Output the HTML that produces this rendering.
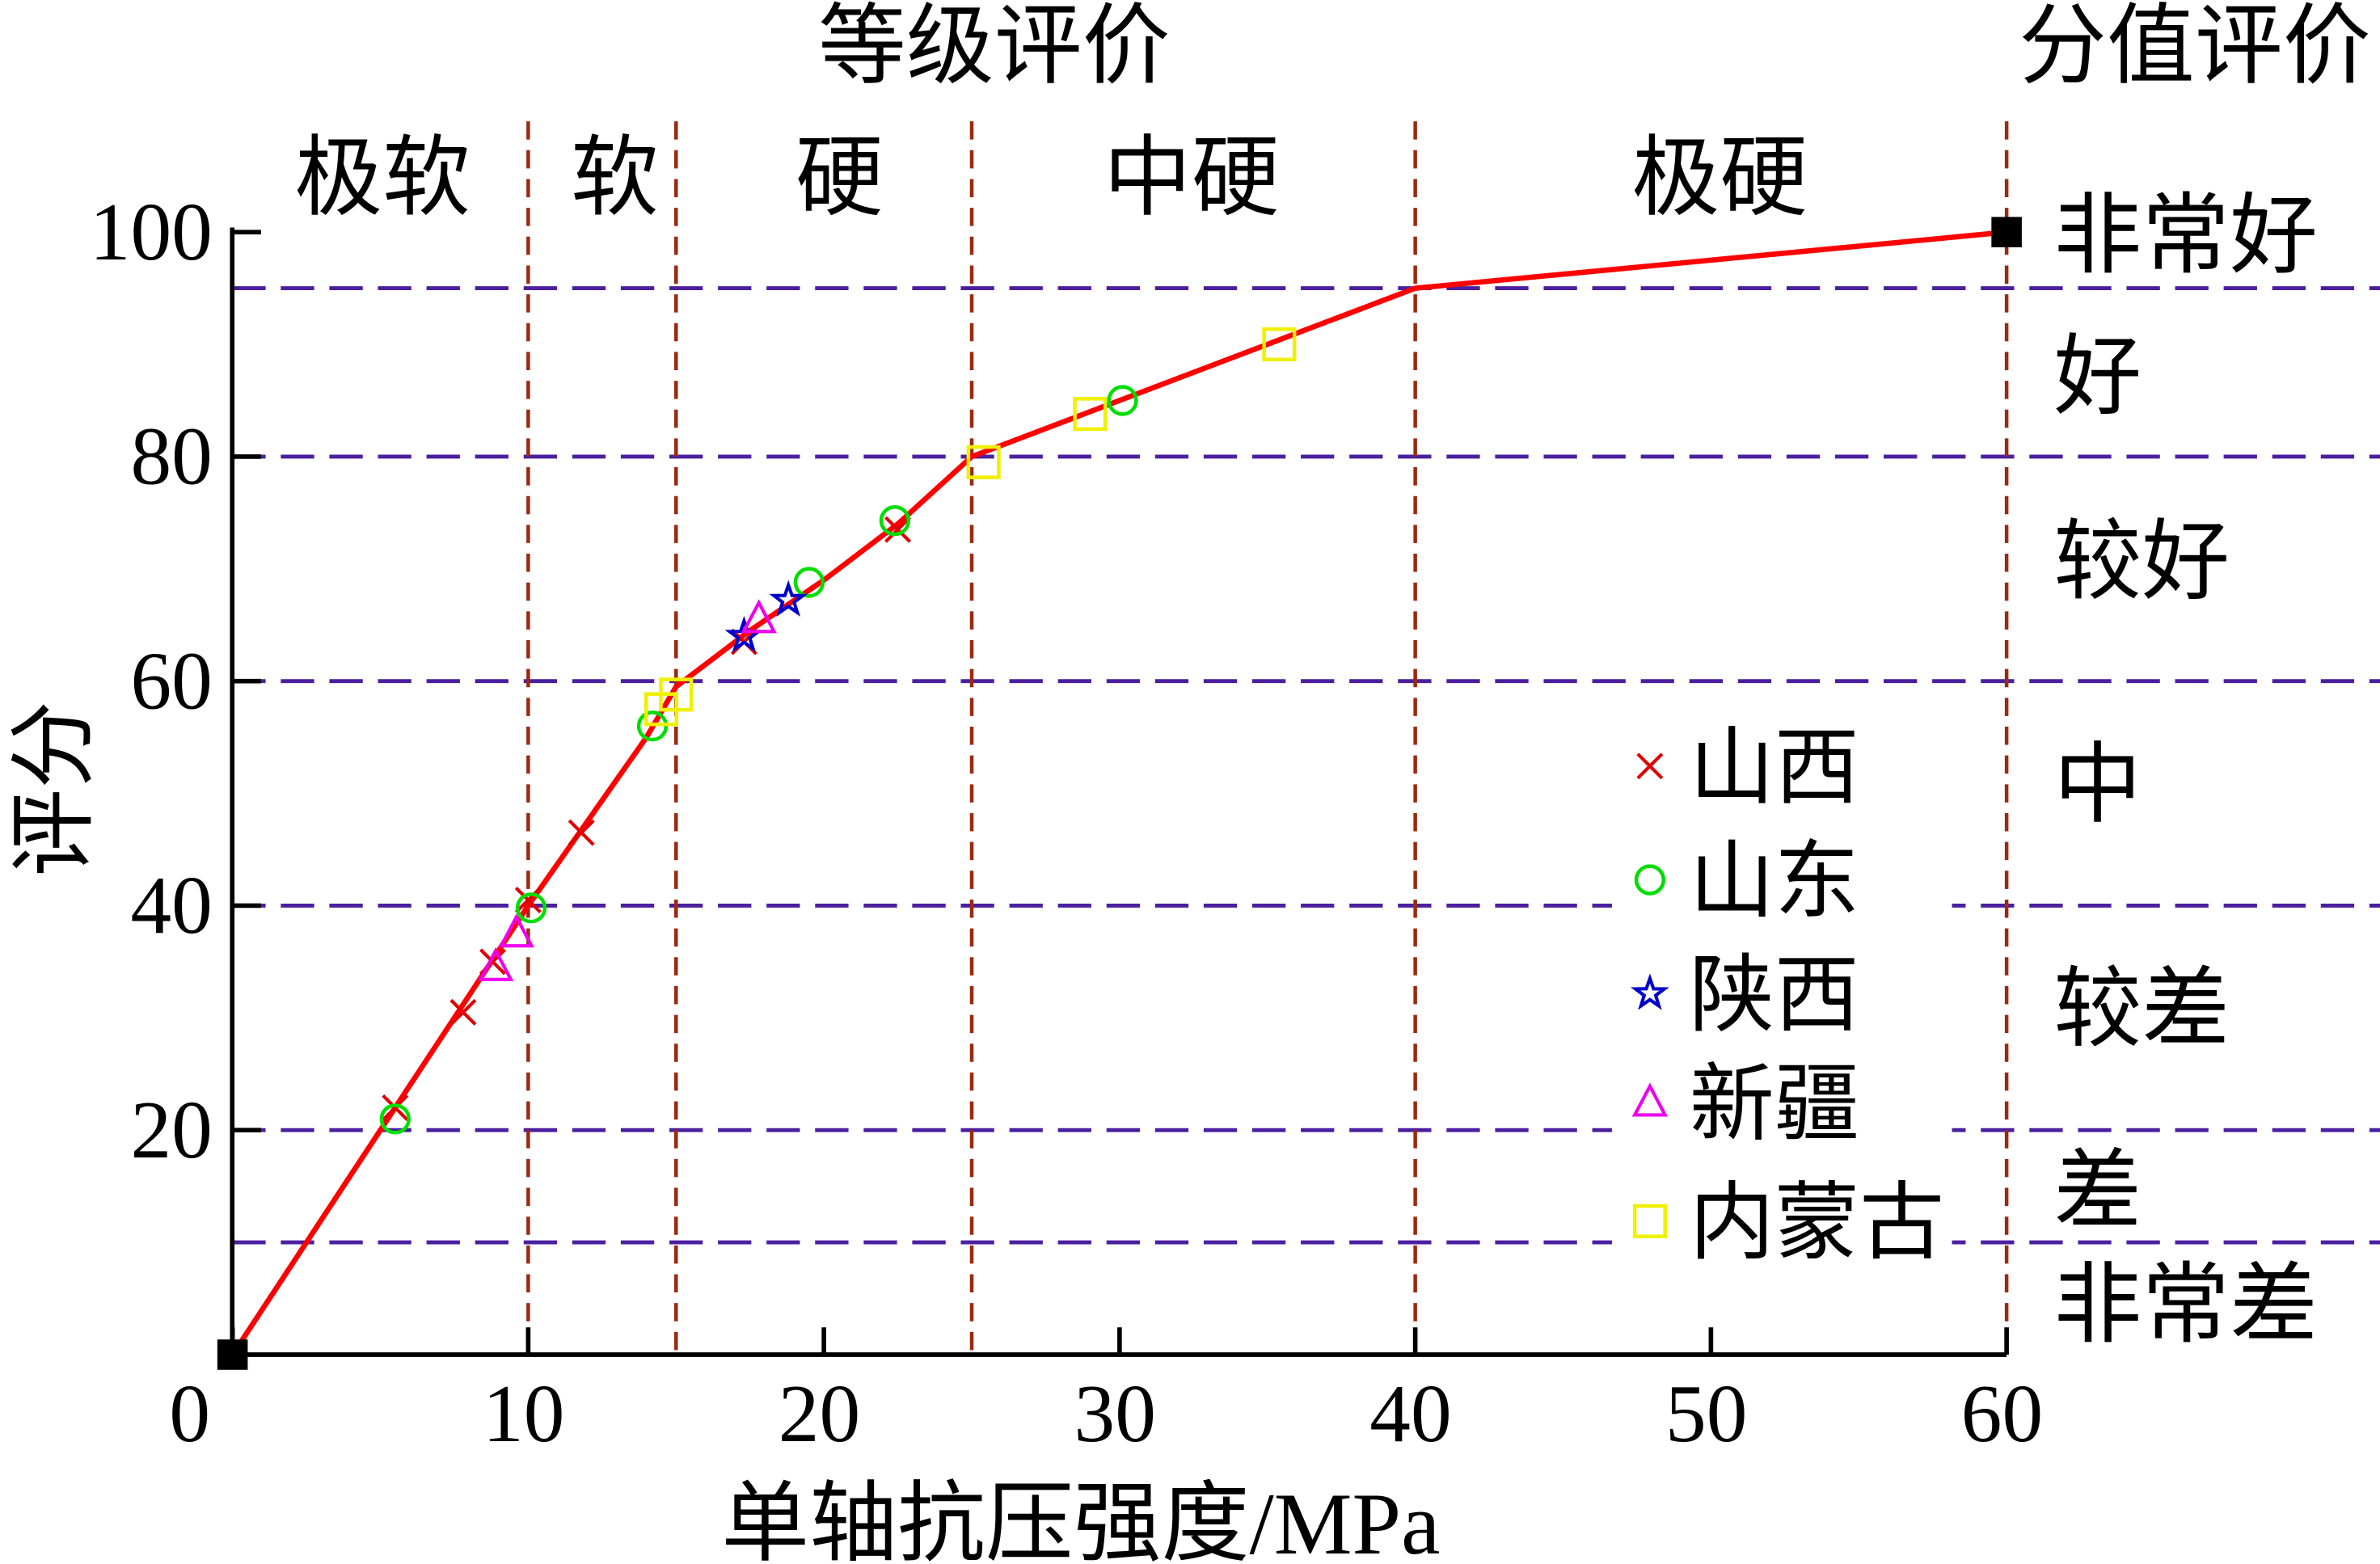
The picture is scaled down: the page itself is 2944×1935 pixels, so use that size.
<!DOCTYPE html>
<html><head><meta charset="utf-8"><style>
html,body{margin:0;padding:0;background:#fff;}
svg{display:block;}
</style></head><body>
<svg id="chart" width="2944" height="1935" viewBox="0 0 1568 1031" preserveAspectRatio="none" xmlns="http://www.w3.org/2000/svg"></svg>
<script>
const xTicks=[0,10,20,30,40,50,60];
const yTicks=[20,40,60,80,100];
const vLines=[10,15,25,40,60];
const hLines=[95,80,60,40,20,10];
const curveX=[0,10,12,14,15,17.5,20,22.5,25,30,35,40,60];
const curveY=[0,40,47.5,55,59.5,64.5,69,74,80,85,90,95,100];
const shanxiX=[5.5,7.8,8.8,10,11.8,17.3,22.5];
const shanxiY=[22,30.5,35,40.5,46.5,63.5,73.5];
const shandongX=[5.5,10.1,14.2,19.5,22.4,30.1];
const shandongY=[21,39.8,56,68.8,74.3,85];
const shaanxiX=[17.3,18.8];
const shaanxiY=[64,67.2];
const xinjiangX=[8.9,9.6,17.8];
const xinjiangY=[34.5,37.5,65.5];
const neimengX=[14.5,15,25.4,29,35.4];
const neimengY=[57.5,58.8,79.5,83.8,90];
const regions=["极软","软","硬","中硬","极硬"];
const regionX=[252,405,553,785,1133];
const grades=["非常好","好","较好","中","较差","差","非常差"];
const gradeY=[155,248,370,517,665,785,860];

const sx=v=>153.2+v*19.48;
const sy=v=>893-v*7.4;
const svg=document.getElementById('chart');
const NS="http://www.w3.org/2000/svg";
function el(tag,attrs,name,parent){
  const e=document.createElementNS(NS,tag);
  for(const k in attrs)e.setAttribute(k,attrs[k]);
  
  
  (parent||svg).appendChild(e);return e;
}
const serif='"Liberation Serif","Noto Serif CJK SC",serif';
const cjk='"Liberation Serif","Noto Sans CJK SC",sans-serif';
function txt(x,y,s,size,anchor,name,extra){
  const t=el('text',Object.assign({x:x,y:y,'font-size':size,'font-family':cjk,'text-anchor':anchor||'start',fill:'#000'},extra||{}),name);
  t.textContent=s;return t;
}
hLines.forEach(v=>el('line',{x1:153,x2:1568,y1:sy(v),y2:sy(v),stroke:'#4b1fa0','stroke-width':2.6,'stroke-dasharray':'22 10'},'grade-boundary-line'));
vLines.forEach(v=>el('line',{x1:sx(v),x2:sx(v),y1:80,y2:893,stroke:'#9a2a10','stroke-width':2.4,'stroke-dasharray':'12 7'},'class-boundary-line'));
el('line',{x1:153,x2:1322,y1:893,y2:893,stroke:'#000','stroke-width':3},'x-axis');
el('line',{x1:153,x2:153,y1:150,y2:893,stroke:'#000','stroke-width':3},'y-axis');
xTicks.forEach(v=>{
  el('line',{x1:sx(v),x2:sx(v),y1:893,y2:875,stroke:'#000','stroke-width':3},'x-tick');
  txt(v===0?125:sx(v)-3,950,String(v),54,'middle','x-tick-label',{'font-family':serif});
});
yTicks.forEach(v=>{
  el('line',{x1:153,x2:172,y1:sy(v),y2:sy(v),stroke:'#000','stroke-width':3},'y-tick');
  txt(140,sy(v)+18,String(v),54,'end','y-tick-label',{'font-family':serif});
});
el('polyline',{points:curveX.map((x,i)=>sx(x)+','+sy(curveY[i])).join(' '),fill:'none',stroke:'#f00','stroke-width':3.5},'score-curve');
el('rect',{x:sx(0)-10,y:sy(0)-10,width:20,height:20,fill:'#000'},'curve-start-marker');
el('rect',{x:sx(60)-10,y:sy(100)-10,width:20,height:20,fill:'#000'},'curve-end-marker');
function cross(x,y,c,n){el('path',{d:`M${x-8},${y-8}L${x+8},${y+8}M${x-8},${y+8}L${x+8},${y-8}`,stroke:c,'stroke-width':2.2,fill:'none'},n);}
function circ(x,y,c,n){el('circle',{cx:x,cy:y,r:9,stroke:c,'stroke-width':2.4,fill:'none'},n);}
function star(x,y,c,n){let p=[];for(let i=0;i<10;i++){const r=i%2?4:10,a=-Math.PI/2+i*Math.PI/5;p.push((x+r*Math.cos(a)).toFixed(1)+','+(y+r*Math.sin(a)).toFixed(1));}el('polygon',{points:p.join(' '),stroke:c,'stroke-width':2.2,fill:'none'},n);}
function tri(x,y,c,n){el('polygon',{points:`${x},${y-11} ${x-10},${y+8} ${x+10},${y+8}`,stroke:c,'stroke-width':2.2,fill:'none'},n);}
function sq(x,y,c,n){el('rect',{x:x-10,y:y-10,width:20,height:20,stroke:c,'stroke-width':2.4,fill:'none'},n);}
shanxiX.forEach((v,i)=>cross(sx(v),sy(shanxiY[i]),'#e00000','shanxi-point'));
shandongX.forEach((v,i)=>circ(sx(v),sy(shandongY[i]),'#00dd00','shandong-point'));
shaanxiX.forEach((v,i)=>star(sx(v),sy(shaanxiY[i]),'#0000cc','shaanxi-point'));
xinjiangX.forEach((v,i)=>tri(sx(v),sy(xinjiangY[i]),'#ee00ee','xinjiang-point'));
neimengX.forEach((v,i)=>sq(sx(v),sy(neimengY[i]),'#f0f000','neimenggu-point'));
el('rect',{x:1062,y:470,width:224,height:370,fill:'#fff'},'legend-box');
const leg=[["山西",cross,'#e00000'],["山东",circ,'#00dd00'],["陕西",star,'#0000cc'],["新疆",tri,'#ee00ee'],["内蒙古",sq,'#f0f000']];
const legY=[505,580,655,727,805];
leg.forEach((l,i)=>{l[1](1087,legY[i],l[2],'legend-marker');txt(1113,legY[i]+20,l[0],56,'start','legend-entry');});
regions.forEach((r,i)=>txt(regionX[i],137,r,58,'middle','region-label'));
grades.forEach((g,i)=>txt(1353,gradeY[i]+20,g,58,'start','grade-label'));
txt(655,50,"等级评价",58,'middle','top-class-title');
txt(1330,50,"分值评价",58,'start','right-grade-title');
txt(712,1024,"单轴抗压强度/MPa",58,'middle','x-axis-title');
txt(55,520,"评分",58,'middle','y-axis-title',{transform:'rotate(-90 55 520)'});
</script>
</body></html>
